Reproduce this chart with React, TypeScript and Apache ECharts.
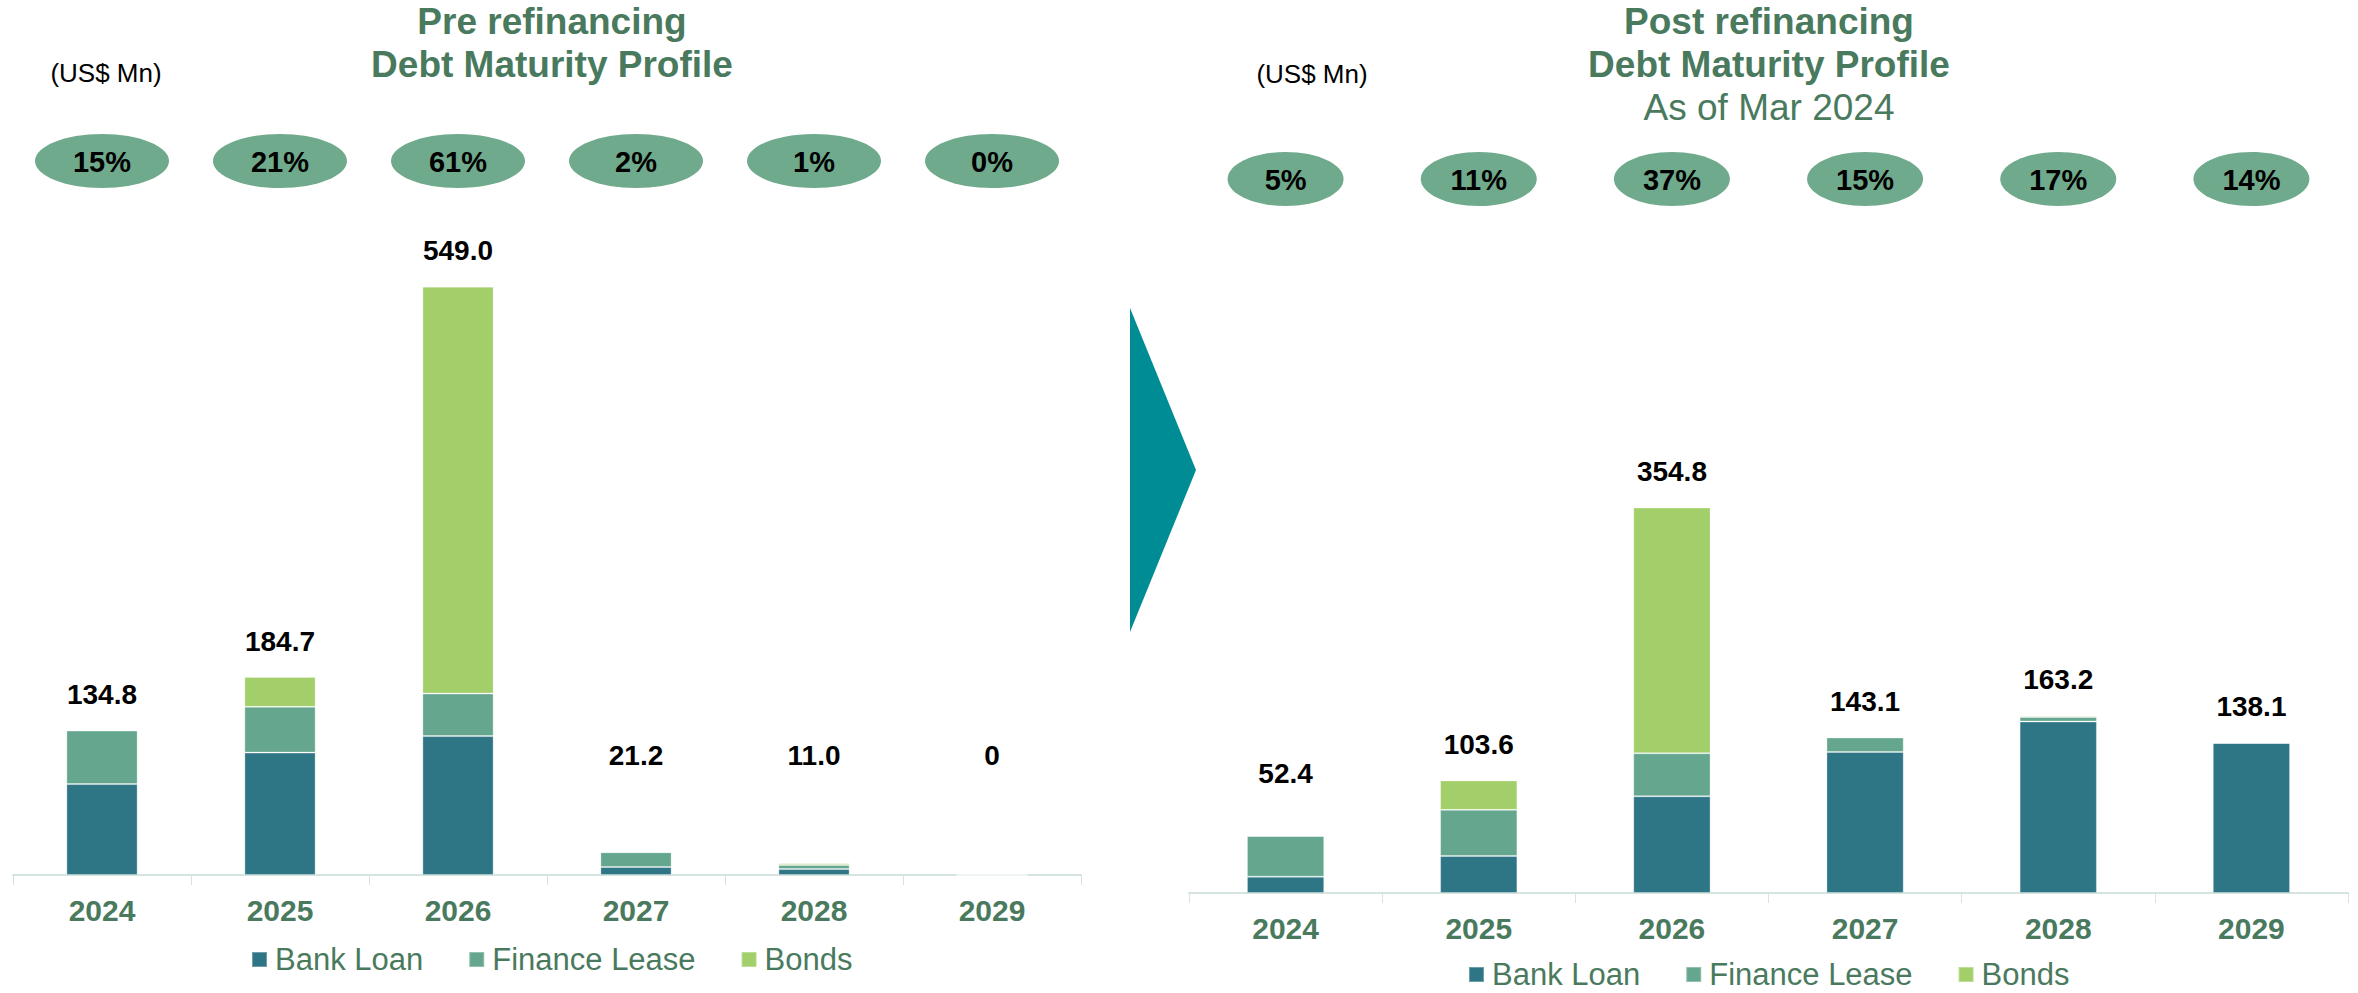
import React, { useEffect, useRef } from "react";
import * as echarts from "echarts";

// ---------- data ----------
const years = ["2024", "2025", "2026", "2027", "2028", "2029"];
const seriesNames = ["Bank Loan", "Finance Lease", "Bonds"];

const preBankLoan = [84.8, 114.2, 129.6, 7.4, 5.5, 0];
const preFinanceLease = [50.0, 42.7, 39.7, 13.8, 3.9, 0];
const preBonds = [0, 27.8, 379.7, 0, 1.6, 0];
const preTotals = [134.8, 184.7, 549.0, 21.2, 11.0, 0];
const prePercents = ["15%", "21%", "61%", "2%", "1%", "0%"];

const postBankLoan = [15.0, 34.1, 89.0, 129.8, 157.8, 138.1];
const postFinanceLease = [37.4, 42.4, 39.6, 13.3, 4.1, 0];
const postBonds = [0, 27.1, 226.2, 0, 1.3, 0];
const postTotals = [52.4, 103.6, 354.8, 143.1, 163.2, 138.1];
const postPercents = ["5%", "11%", "37%", "15%", "17%", "14%"];

// ---------- styles ----------
const GREEN_TEXT = "#4A7A5E";
const C_BANK = "#2E7586";
const C_LEASE = "#64A68E";
const C_BONDS = "#A2CF69";
const C_PILL = "#70AA8C";
const C_ARROW = "#008C95";
const C_AXIS = "#D5E4DE";
const SANS = '"Liberation Sans", Arial, sans-serif';

function fmtTotal(v: number) {
  return v === 0 ? "0" : v.toFixed(1);
}

function barSeries(idx: number, stack: string, bank: number[], lease: number[], bonds: number[]) {
  const common = {
    type: "bar",
    stack,
    xAxisIndex: idx,
    yAxisIndex: idx,
    barWidth: "40%",
  };
  const border = { borderColor: "rgba(255,255,255,0.3)", borderWidth: 1 };
  return [
    { ...common, name: "Bank Loan", data: bank, itemStyle: { color: C_BANK, ...border } },
    { ...common, name: "Finance Lease", data: lease, itemStyle: { color: C_LEASE, ...border } },
    { ...common, name: "Bonds", data: bonds, itemStyle: { color: C_BONDS, ...border } },
  ];
}

function totalLabelSeries(idx: number, totals: number[]) {
  return {
    type: "custom",
    xAxisIndex: idx,
    yAxisIndex: idx,
    silent: true,
    z: 10,
    data: totals.map((v, i) => [i, v]),
    renderItem: (params: any, api: any) => {
      const top = api.coord([api.value(0), api.value(1)]);
      const base = api.coord([api.value(0), 0]);
      const y = Math.min(top[1] - 36, base[1] - 120);
      return {
        type: "text",
        x: top[0],
        y,
        style: {
          text: fmtTotal(totals[params.dataIndex]),
          fill: "#000000",
          font: `bold 28px ${SANS}`,
          align: "center",
          verticalAlign: "middle",
        },
      };
    },
  };
}

function pillSeries(idx: number, percents: string[], pillY: number, rx: number, ry: number) {
  return {
    type: "custom",
    xAxisIndex: idx,
    yAxisIndex: idx,
    silent: true,
    z: 10,
    data: percents.map((_, i) => [i, 0]),
    renderItem: (params: any, api: any) => {
      const p = api.coord([api.value(0), 0]);
      return {
        type: "group",
        children: [
          { type: "ellipse", shape: { cx: p[0], cy: pillY, rx, ry }, style: { fill: C_PILL } },
          {
            type: "text",
            x: p[0],
            y: pillY + 1,
            style: {
              text: percents[params.dataIndex],
              fill: "#000000",
              font: `bold 29px ${SANS}`,
              align: "center",
              verticalAlign: "middle",
            },
          },
        ],
      };
    },
  };
}

function xAxisCfg(idx: number) {
  return {
    type: "category",
    gridIndex: idx,
    data: years,
    axisLine: { lineStyle: { color: C_AXIS, width: 2 } },
    axisTick: { show: true, length: 10, lineStyle: { color: C_AXIS, width: 1 } },
    axisLabel: {
      margin: 20,
      fontSize: 30,
      fontWeight: "bold",
      color: GREEN_TEXT,
      fontFamily: SANS,
    },
    splitLine: { show: false },
  };
}

function yAxisCfg(idx: number) {
  return {
    type: "value",
    gridIndex: idx,
    min: 0,
    max: 600,
    show: false,
    splitLine: { show: false },
  };
}

function legendCfg(left: number, top: number) {
  return {
    data: seriesNames,
    left,
    top,
    padding: 0,
    icon: "rect",
    itemWidth: 15,
    itemHeight: 15,
    itemGap: 45,
    selectedMode: false,
    textStyle: {
      fontSize: 31,
      lineHeight: 31,
      color: GREEN_TEXT,
      fontFamily: SANS,
      padding: [0, 0, 0, 3],
    },
  };
}

function titleText(x: number, y: number, text: string, bold: boolean, size: number) {
  return {
    type: "text",
    x,
    y,
    style: {
      text,
      fill: GREEN_TEXT,
      font: `${bold ? "bold " : ""}${size}px ${SANS}`,
      align: "center",
      verticalAlign: "middle",
    },
  };
}

function unitText(x: number, y: number) {
  return {
    type: "text",
    x,
    y,
    style: {
      text: "(US$ Mn)",
      fill: "#000000",
      font: `26px ${SANS}`,
      align: "center",
      verticalAlign: "middle",
    },
  };
}

export default function App() {
  const ref = useRef<HTMLDivElement>(null);

  useEffect(() => {
    if (!ref.current) return;
    const chart = echarts.init(ref.current, undefined, { renderer: "svg" });
    const option: any = {
      animation: false,
      backgroundColor: "#ffffff",
      grid: [
        { left: 13, top: 232, width: 1068, height: 643 },
        { left: 1189, top: 241, width: 1159, height: 652 },
      ],
      xAxis: [xAxisCfg(0), xAxisCfg(1)],
      yAxis: [yAxisCfg(0), yAxisCfg(1)],
      legend: [legendCfg(251, 944), legendCfg(1468, 959)],
      series: [
        ...barSeries(0, "pre", preBankLoan, preFinanceLease, preBonds),
        ...barSeries(1, "post", postBankLoan, postFinanceLease, postBonds),
        totalLabelSeries(0, preTotals),
        totalLabelSeries(1, postTotals),
        pillSeries(0, prePercents, 161, 67, 27),
        pillSeries(1, postPercents, 179, 58, 27),
      ],
      graphic: [
        titleText(552, 21.5, "Pre refinancing", true, 37),
        titleText(552, 64.5, "Debt Maturity Profile", true, 37),
        titleText(1769, 21, "Post refinancing", true, 37),
        titleText(1769, 64, "Debt Maturity Profile", true, 37),
        titleText(1769, 107, "As of Mar 2024", false, 37),
        unitText(106, 73),
        unitText(1312, 74),
        {
          type: "polygon",
          shape: { points: [[1130, 308], [1196, 470], [1130, 632]] },
          style: { fill: C_ARROW },
        },
      ],
    };
    chart.setOption(option);
    return () => chart.dispose();
  }, []);

  return (
    <div
      ref={ref}
      style={{ position: "absolute", left: 0, top: 0, width: 2358, height: 993 }}
    />
  );
}
